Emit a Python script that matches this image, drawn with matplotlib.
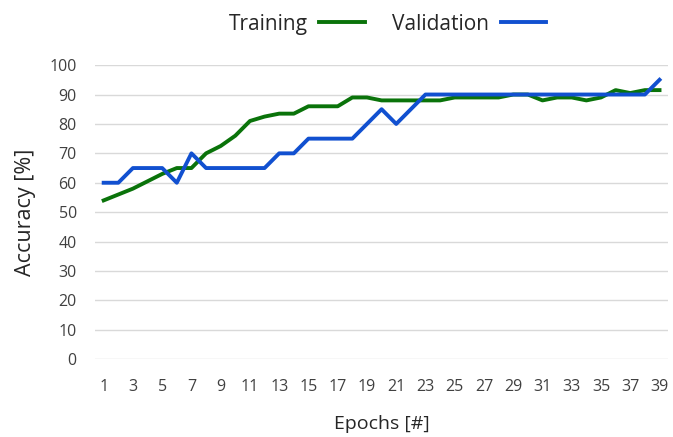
import numpy as np
import matplotlib.pyplot as plt

plt.rcParams['font.family'] = ['Open Sans', 'DejaVu Sans']

# Data
epochs = np.arange(1, 40)
training = [54, 56, 58, 60.5, 63, 65, 65, 70, 72.5, 76,
            81, 82.5, 83.5, 83.5, 86, 86, 86, 89, 89, 88,
            88, 88, 88, 88, 89, 89, 89, 89, 90, 90,
            88, 89, 89, 88, 89, 91.5, 90.5, 91.5, 91.5]
validation = [60, 60, 65, 65, 65, 60, 70, 65, 65, 65,
              65, 65, 70, 70, 75, 75, 75, 75, 80, 85,
              80, 85, 90, 90, 90, 90, 90, 90, 90, 90,
              90, 90, 90, 90, 90, 90, 90, 90, 95]
y_ticks = np.arange(0, 101, 10)
x_ticks = np.arange(1, 40, 2)

fig = plt.figure(figsize=(6.73, 4.37), dpi=100)
ax = fig.add_axes([0.141, 0.178, 0.852, 0.673])

ax.plot(epochs, training, color='#0a730a', linewidth=2.8, label='Training')
ax.plot(epochs, validation, color='#1150d0', linewidth=2.8, label='Validation')

ax.set_xlim(0.4, 39.6)
ax.set_ylim(0, 100)
ax.set_yticks(y_ticks)
ax.set_xticks(x_ticks)
ax.grid(axis='y', color='#d9d9d9', linewidth=1)
ax.set_axisbelow(True)
for s in ax.spines.values():
    s.set_visible(False)
ax.tick_params(length=0, labelsize=11.5, colors='#404040')
ax.tick_params(axis='x', pad=14)
ax.tick_params(axis='y', pad=13)

ax.set_xlabel('Epochs [#]', fontsize=14, color='#262626', labelpad=15)
ax.set_ylabel('Accuracy [%]', fontsize=15.5, color='#262626', labelpad=10)

fig.legend(loc='center', bbox_to_anchor=(0.576, 0.945), ncol=2,
           frameon=False, markerfirst=False, fontsize=15,
           handlelength=2.2, columnspacing=1.3, handletextpad=0.55,
           labelcolor='#262626')

plt.savefig('out.png', dpi=100)
